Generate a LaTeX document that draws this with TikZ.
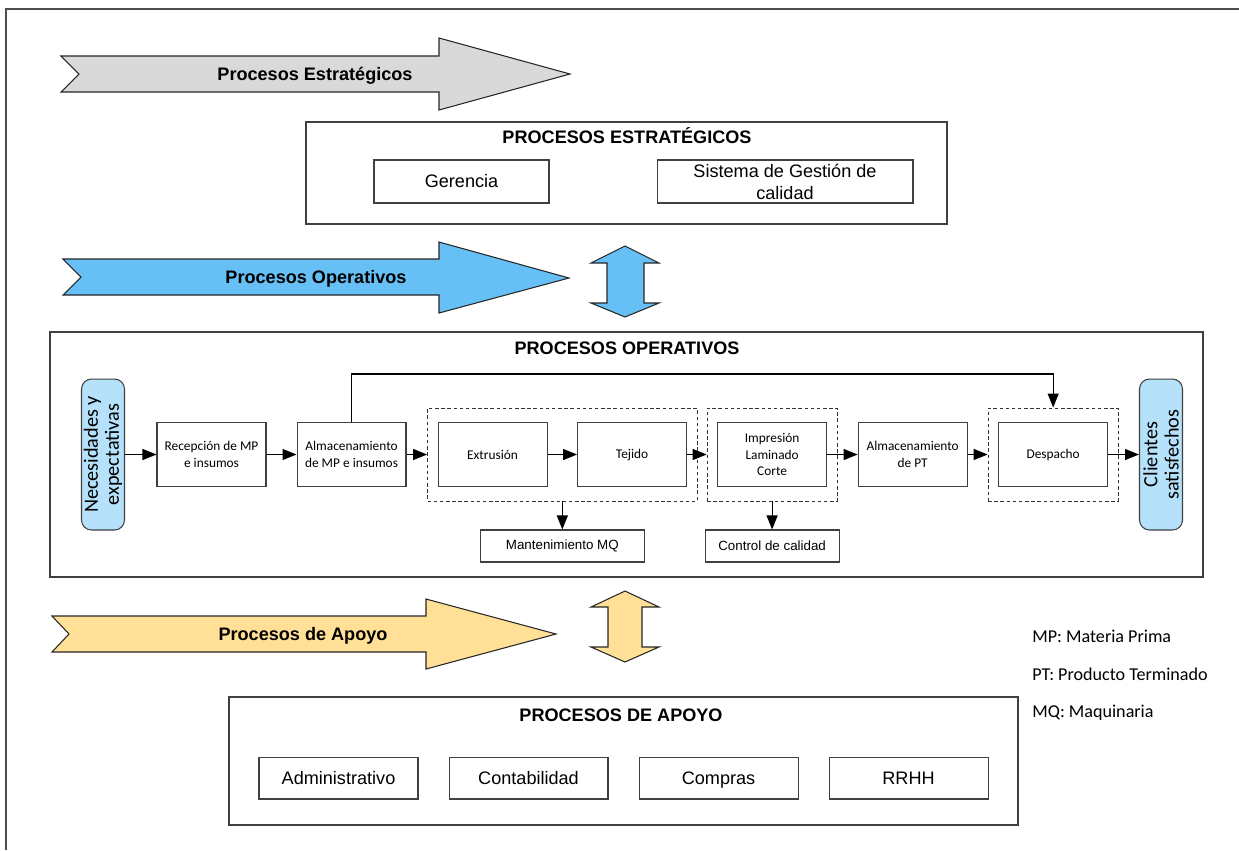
\documentclass[tikz,border=0pt]{standalone}
\usepackage{fontspec}
\setmainfont{Liberation Sans}
\newfontfamily\calib{Carlito}
\usetikzlibrary{arrows.meta,positioning,fit}
\definecolor{stratgray}{HTML}{D9D9D9}
\definecolor{opblue}{HTML}{66BFF5}
\definecolor{suppyellow}{HTML}{FFE096}
\definecolor{endblue}{HTML}{B5E1FA}

\begin{document}
\begin{tikzpicture}[
  x=0.02cm, y=-0.02cm,
  frame/.style={draw=black!70, line width=1pt},
  panel/.style={draw=black!75, line width=0.8pt, fill=white},
  title/.style={font=\fontsize{10.3}{12}\selectfont\bfseries, text height=7.4pt, text depth=0pt, inner sep=0pt},
  chev/.style={draw=black!85, line width=0.6pt, line join=miter},
  banner/.style={font=\fontsize{10.3}{12}\selectfont\bfseries, text height=7.4pt, text depth=0pt, inner sep=0pt},
  unit/.style={draw=black!75, line width=0.6pt, minimum height=0.86cm, align=center, font=\fontsize{10.3}{12.5}\selectfont, inner sep=1pt},
  supbox/.style={unit, minimum width=3.18cm, minimum height=0.84cm, text height=7.6pt, text depth=0.4pt},
  flowbox/.style={draw=black!75, line width=0.6pt, minimum width=2.18cm, minimum height=1.28cm, align=center, font=\calib\fontsize{7.6}{9.3}\selectfont, inner sep=1pt},
  endbox/.style={draw=black!75, line width=0.6pt, fill=endblue, rounded corners=0.2cm, rotate=90, minimum width=3.02cm, minimum height=0.86cm, align=center, font=\calib\fontsize{11.5}{12}\selectfont, inner sep=0pt},
  grp/.style={draw=black!80, line width=0.5pt, dash pattern=on 2pt off 1.5pt, inner xsep=0.2cm, inner ysep=0.28cm},
  subbox/.style={draw=black!75, line width=0.6pt, minimum height=0.64cm, font=\fontsize{7.6}{9}\selectfont, inner sep=1pt},
  arr/.style={-{Triangle[length=2.8mm, width=2.2mm]}, line width=0.6pt, black},
  legend/.style={anchor=west, font=\calib\fontsize{10.3}{12}\selectfont, text height=7pt, text depth=2pt, inner sep=0pt}
]
\useasboundingbox (0,0) rectangle (1239,850);
\draw[frame] (6,850) -- (6,9) -- (1239,9);

% banners
\draw[chev, fill=stratgray] (61,56) -- (439,56) -- (439,38) -- (570,74) -- (439,110) -- (439,92) -- (61,92) -- (79,74) -- cycle;
\node[banner] (bstrat) at (315,74) {Procesos Estratégicos};
\draw[chev, fill=opblue] (63,259) -- (439,259) -- (439,242) -- (569,278) -- (439,313) -- (439,295) -- (63,295) -- (81,277) -- cycle;
\node[banner] (bop) at (316,277) {Procesos Operativos};
\draw[chev, fill=suppyellow] (52,616) -- (426,616) -- (426,599) -- (556,634) -- (426,669) -- (426,652) -- (52,652) -- (69,634) -- cycle;
\node[banner] (bsupp) at (303,634) {Procesos de Apoyo};

% double arrows
\draw[chev, fill=opblue] (625,246) -- (659,263) -- (644,263) -- (644,303) -- (659,303) -- (625,317) -- (591,303) -- (607,303) -- (607,263) -- (591,263) -- cycle;
\draw[chev, fill=suppyellow] (625,591) -- (659,607) -- (642,607) -- (642,647) -- (659,647) -- (625,662) -- (591,647) -- (608,647) -- (608,607) -- (591,607) -- cycle;

% strategic
\node[panel, minimum width=12.82cm, minimum height=2.04cm] (strat) at (626.5,173) {};
\node[title] (strattitle) at (627,137) {PROCESOS ESTRATÉGICOS};
\node[unit, minimum width=3.5cm] (ger) at (461.5,181.5) {Gerencia};
\node[unit, minimum width=5.12cm] (sgc) at (785,181.5) {Sistema de Gestión de\\calidad};

% operative
\node[panel, minimum width=23.06cm, minimum height=4.9cm] (op) at (626.5,454.5) {};
\node[title] (optitle) at (627,348) {PROCESOS OPERATIVOS};
\node[endbox] (nec) at (103,454.5) {Necesidades y\\expectativas};
\node[flowbox] (rec) at (211.5,454.5) {Recepción de MP\\e insumos};
\node[flowbox, right=6.0mm of rec] (almmp) {Almacenamiento\\de MP e insumos};
\node[flowbox, right=6.2mm of almmp] (extr) {Extrusión};
\node[flowbox, right=5.9mm of extr] (tej) {Tejido};
\node[flowbox, right=6.0mm of tej] (imp) {Impresión\\Laminado\\Corte};
\node[flowbox, right=6.1mm of imp] (almpt) {Almacenamiento\\de PT};
\node[flowbox, right=6.1mm of almpt] (desp) {Despacho};
\node[endbox] (cli) at (1161,454.5) {Clientes\\satisfechos};
\node[grp, fit=(extr)(tej)] (grp1) {};
\node[grp, fit=(imp)] (grp2) {};
\node[grp, fit=(desp)] (grp3) {};
\node[subbox, minimum width=3.28cm, below=5.6mm of grp1] (mant) {Mantenimiento MQ};
\node[subbox, minimum width=2.68cm, below=5.6mm of grp2] (ctrl) {Control de calidad};
\coordinate (fbtop) at (0,374);
\draw[arr] (nec.south) -- (rec.west);
\draw[arr] (rec) -- (almmp);
\draw[arr] (almmp.east) -- (grp1.west);
\draw[arr] (extr) -- (tej);
\draw[arr] (tej.east) -- (grp2.west);
\draw[arr] (imp) -- (almpt);
\draw[arr] (almpt.east) -- (grp3.west);
\draw[arr] (desp.east) -- (cli.north);
\draw[arr] (almmp.north) -- (almmp.north |- fbtop) -| (grp3.north);
\draw[arr] (grp1.south -| mant.north) -- (mant.north);
\draw[arr] (grp2.south -| ctrl.north) -- (ctrl.north);

% support
\node[panel, minimum width=15.78cm, minimum height=2.56cm] (supp) at (623.5,761) {};
\node[title] (supptitle) at (621,715) {PROCESOS DE APOYO};
\node[supbox] (adm) at (338.5,778) {Administrativo};
\node[supbox, right=6.0mm of adm] (cont) {Contabilidad};
\node[supbox, right=6.0mm of cont] (comp) {Compras};
\node[supbox, right=6.0mm of comp] (rrhh) {RRHH};

% legend
\node[legend] (lmp) at (1032,638) {MP: Materia Prima};
\node[legend] (lpt) at (1032,676) {PT: Producto Terminado};
\node[legend] (lmq) at (1032,713) {MQ: Maquinaria};
\end{tikzpicture}
\end{document}
